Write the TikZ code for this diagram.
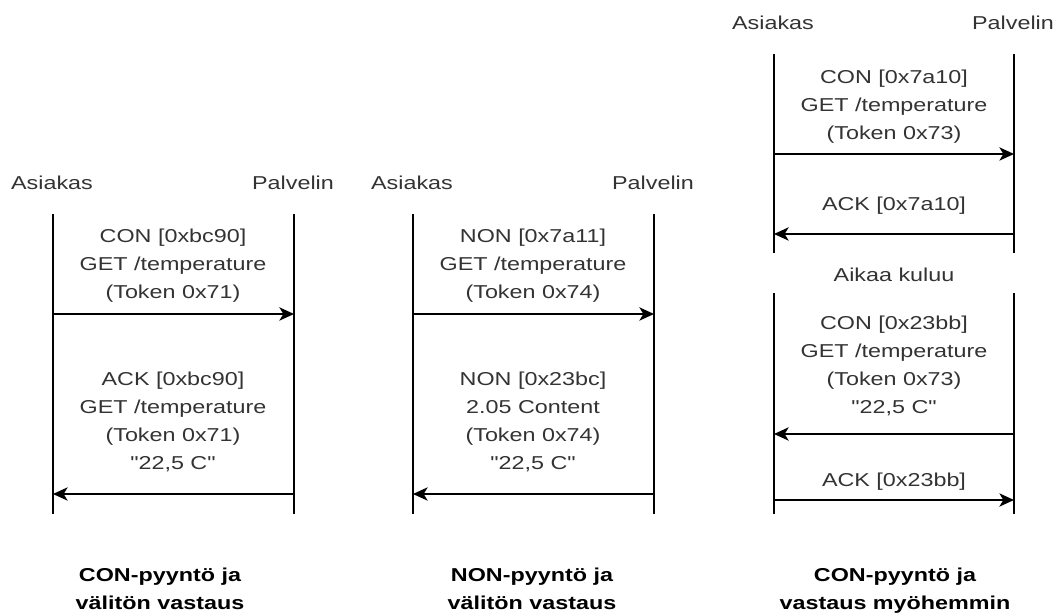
\documentclass[tikz,border=0pt]{standalone}
\usepackage{fontspec}
\setmainfont{Liberation Sans}[FakeStretch=1.25,Ligatures=TeXOff]
\usetikzlibrary{arrows.meta}

\definecolor{txtgray}{HTML}{333333}

\tikzset{
	lane/.style={black,line width=1pt},
	msg/.style={black,line width=1pt,-{Stealth[length=11pt,width=10pt,inset=3pt]}},
	txt/.style={text=txtgray,align=center,inner sep=0pt,anchor=base,font=\fontsize{14}{21}\selectfont},
	caption/.style={txt,text=black,font=\fontsize{14}{21}\selectfont\bfseries}
}

\begin{document}
\begin{tikzpicture}[x=0.75pt,y=-0.75pt]

\useasboundingbox (0,0) rectangle (1063,616);

% lifeline: name, x, top, bottom
\newcommand*{\lifeline}[4] {
	\coordinate (#1top) at (#2,#3);
	\coordinate (#1bot) at (#2,#4);
	\draw [lane] (#1top) -- (#1bot);
}
% message arrow: name, from x, to x, y
\newcommand*{\sendmsg}[4] {
	\coordinate (#1s) at (#2,#4);
	\coordinate (#1e) at (#3,#4);
	\draw [msg] (#1s) -- (#1e);
}

% lanes 1 and 2
\foreach \n/\xa/\xp in {1/53/294, 2/413/654} {
	\node [txt] (asiakas\n) at (\xa-1,190) {Asiakas};
	\node [txt] (palvelin\n) at (\xp-1,190) {Palvelin};
	\lifeline{a\n}{\xa}{214}{514}
	\lifeline{p\n}{\xp}{214}{514}
}

% lane 3
\node [txt] (asiakas3) at (773,30) {Asiakas};
\node [txt] (palvelin3) at (1013,30) {Palvelin};
\lifeline{a3}{774}{54}{253}
\lifeline{p3}{1014}{54}{253}
\lifeline{a4}{774}{293}{514}
\lifeline{p4}{1014}{293}{514}

% CON, immediate reply (base = last line)
\node [txt] (req1) at (173,298.5) {CON [0xbc90]\\GET /temperature\\(Token 0x71)};
\sendmsg{m1}{53}{294}{314}
\node [txt] (res1) at (173,469.5) {ACK [0xbc90]\\GET /temperature\\(Token 0x71)\\"22,5 C"};
\sendmsg{m2}{294}{53}{494}

% NON, immediate reply
\node [txt] (req2) at (533,298.5) {NON [0x7a11]\\GET /temperature\\(Token 0x74)};
\sendmsg{m3}{413}{654}{314}
\node [txt] (res2) at (533,469.5) {NON [0x23bc]\\2.05 Content\\(Token 0x74)\\"22,5 C"};
\sendmsg{m4}{654}{413}{494}

% CON, reply later
\node [txt] (req3) at (894,139.5) {CON [0x7a10]\\GET /temperature\\(Token 0x73)};
\sendmsg{m5}{774}{1014}{154}
\node [txt] (ack3) at (894,210.5) {ACK [0x7a10]};
\sendmsg{m6}{1014}{774}{234}
\node [txt] (wait3) at (894,281.5) {Aikaa kuluu};
\node [txt] (res3) at (894,413.5) {CON [0x23bb]\\GET /temperature\\(Token 0x73)\\"22,5 C"};
\sendmsg{m7}{1014}{774}{434}
\node [txt] (ack4) at (894,486.5) {ACK [0x23bb]};
\sendmsg{m8}{774}{1014}{500}

% captions
\node [caption] (cap1) at (160,609) {CON-pyyntö ja\\välitön vastaus};
\node [caption] (cap2) at (532,609) {NON-pyyntö ja\\välitön vastaus};
\node [caption] (cap3) at (895,609) {CON-pyyntö ja\\vastaus myöhemmin};

\end{tikzpicture}
\end{document}
